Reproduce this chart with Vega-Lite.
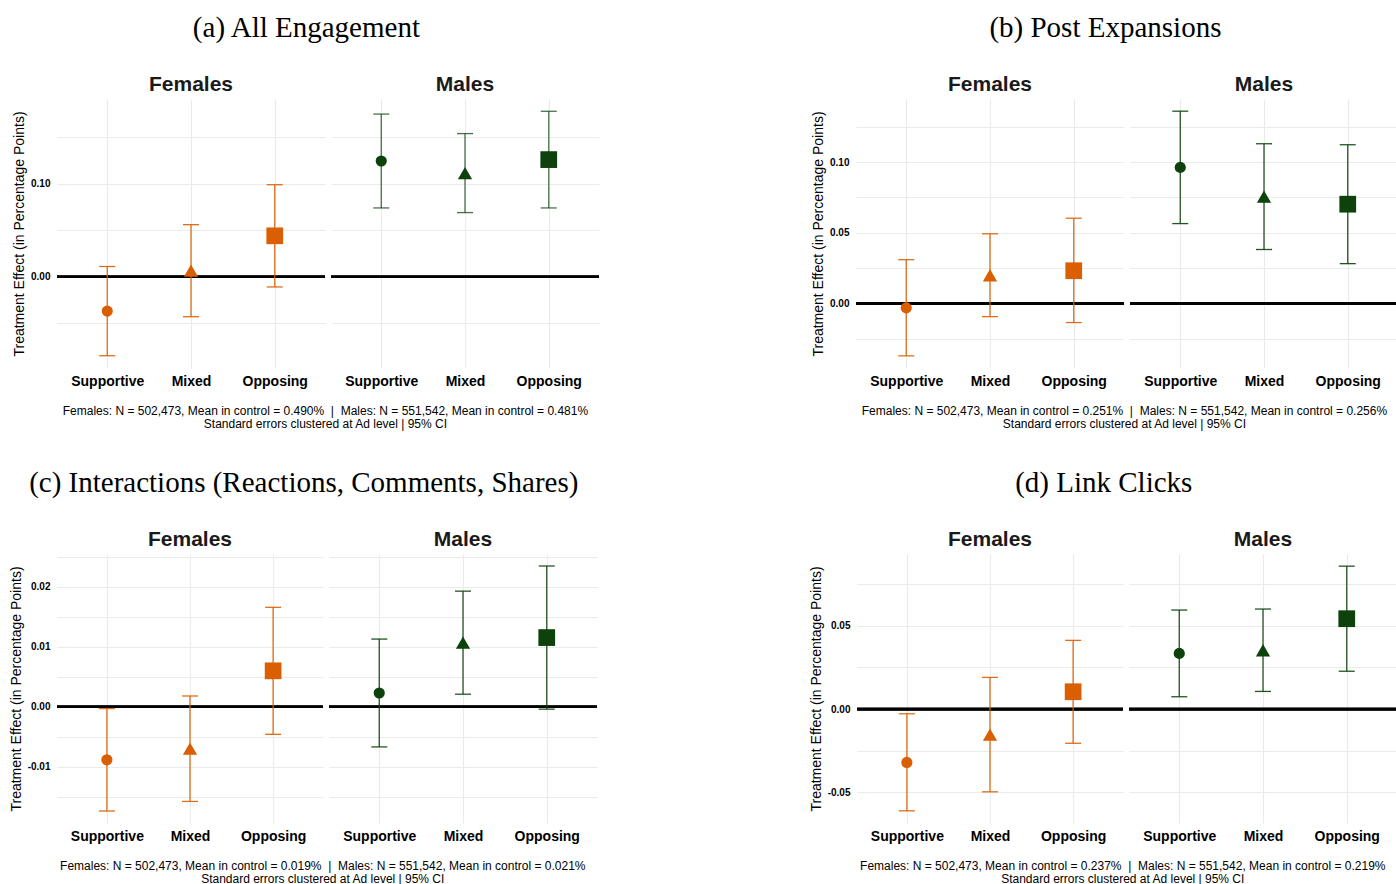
{
  "$schema": "https://vega.github.io/schema/vega-lite/v6.json",
  "background": "white",
  "padding": {"left": 9, "top": 14, "right": 0, "bottom": 0},
  "datasets": {
    "effects": [
      {"panel": "a", "sex": "Females", "frame": "Supportive", "est": -0.037, "lo": -0.085, "hi": 0.011},
      {"panel": "a", "sex": "Females", "frame": "Mixed", "est": 0.0065, "lo": -0.043, "hi": 0.056},
      {"panel": "a", "sex": "Females", "frame": "Opposing", "est": 0.044, "lo": -0.011, "hi": 0.099},
      {"panel": "a", "sex": "Males", "frame": "Supportive", "est": 0.1245, "lo": 0.074, "hi": 0.175},
      {"panel": "a", "sex": "Males", "frame": "Mixed", "est": 0.1115, "lo": 0.069, "hi": 0.154},
      {"panel": "a", "sex": "Males", "frame": "Opposing", "est": 0.126, "lo": 0.074, "hi": 0.178},
      {"panel": "b", "sex": "Females", "frame": "Supportive", "est": -0.003, "lo": -0.0369, "hi": 0.031},
      {"panel": "b", "sex": "Females", "frame": "Mixed", "est": 0.020, "lo": -0.0092, "hi": 0.0493},
      {"panel": "b", "sex": "Females", "frame": "Opposing", "est": 0.0232, "lo": -0.0134, "hi": 0.0603},
      {"panel": "b", "sex": "Males", "frame": "Supportive", "est": 0.0962, "lo": 0.0565, "hi": 0.1359},
      {"panel": "b", "sex": "Males", "frame": "Mixed", "est": 0.0756, "lo": 0.0382, "hi": 0.1129},
      {"panel": "b", "sex": "Males", "frame": "Opposing", "est": 0.0702, "lo": 0.0282, "hi": 0.1122},
      {"panel": "c", "sex": "Females", "frame": "Supportive", "est": -0.00885, "lo": -0.0174, "hi": -0.0003},
      {"panel": "c", "sex": "Females", "frame": "Mixed", "est": -0.007, "lo": -0.0158, "hi": 0.0018},
      {"panel": "c", "sex": "Females", "frame": "Opposing", "est": 0.006, "lo": -0.0046, "hi": 0.0166},
      {"panel": "c", "sex": "Males", "frame": "Supportive", "est": 0.0023, "lo": -0.0067, "hi": 0.0113},
      {"panel": "c", "sex": "Males", "frame": "Mixed", "est": 0.0107, "lo": 0.0021, "hi": 0.0193},
      {"panel": "c", "sex": "Males", "frame": "Opposing", "est": 0.01155, "lo": -0.0004, "hi": 0.0235},
      {"panel": "d", "sex": "Females", "frame": "Supportive", "est": -0.032, "lo": -0.061, "hi": -0.0028},
      {"panel": "d", "sex": "Females", "frame": "Mixed", "est": -0.0153, "lo": -0.0496, "hi": 0.019},
      {"panel": "d", "sex": "Females", "frame": "Opposing", "est": 0.0104, "lo": -0.0205, "hi": 0.0412},
      {"panel": "d", "sex": "Males", "frame": "Supportive", "est": 0.0334, "lo": 0.0074, "hi": 0.0594},
      {"panel": "d", "sex": "Males", "frame": "Mixed", "est": 0.0353, "lo": 0.0106, "hi": 0.06},
      {"panel": "d", "sex": "Males", "frame": "Opposing", "est": 0.0542, "lo": 0.0227, "hi": 0.0857}
    ]
  },
  "config": {
    "view": {"stroke": null},
    "font": "Liberation Sans",
    "axis": {"domain": false, "ticks": false, "gridColor": "#ebebeb", "gridWidth": 1.1, "labelColor": "#000000", "labelFont": "Liberation Sans", "titleFont": "Liberation Sans"},
    "axisX": {"labelFontSize": 14, "labelFontWeight": "bold", "labelPadding": 6, "labelAngle": 0},
    "axisY": {"labelFontSize": 10, "labelFontWeight": "bold", "labelPadding": 7, "titleFontSize": 14, "titleFontWeight": "normal", "titleColor": "#000000", "titlePadding": 4, "minExtent": 0, "tickCount": 20}
  },
  "spacing": 39,
  "vconcat": [
    {
      "spacing": 210,
      "hconcat": [
        {
          "title": {"text": "(a) All Engagement", "font": "Liberation Serif", "fontSize": 29, "fontWeight": "normal", "color": "#000000", "anchor": "middle", "frame": "bounds", "offset": 31},
          "vconcat": [
            {
              "title": {"text": ["Females: N = 502,473, Mean in control = 0.490% \u00a0|\u00a0 Males: N = 551,542, Mean in control = 0.481%", "Standard errors clustered at Ad level | 95% CI"], "orient": "bottom", "font": "Liberation Sans", "fontSize": 12, "fontWeight": "normal", "color": "#000000", "lineHeight": 13, "anchor": "middle", "frame": "bounds", "offset": 18, "dx": 19},
              "spacing": 6,
              "bounds": "flush",
              "hconcat": [
                {
                  "width": 268, "height": 269,
                  "title": {"text": "Females", "font": "Liberation Sans", "fontSize": 21, "fontWeight": "bold", "color": "#1a1a1a", "anchor": "middle", "frame": "group", "offset": 4},
                  "data": {"name": "effects"},
                  "transform": [{"filter": "datum.panel === 'a' && datum.sex === 'Females'"}],
                  "layer": [
                    {"mark": {"type": "rule", "color": "#000000", "strokeWidth": 2.6},
                     "encoding": {"y": {"datum": 0, "type": "quantitative", "scale": {"domain": [-0.0982, 0.1912], "nice": false, "zero": false},
                       "axis": {"title": "Treatment Effect (in Percentage Points)", "values": [-0.05, 0, 0.05, 0.1, 0.15], "tickCount": 20, "labelExpr": "datum.value === 0 ? '0.00' : datum.value === 0.1 ? '0.10' : ''", "grid": true}}}},
                    {"mark": {"type": "rule", "strokeWidth": 1.3, "opacity": 0.9},
                     "encoding": {"x": {"field": "frame", "type": "nominal", "scale": {"type": "point", "padding": 0.6, "domain": ["Supportive", "Mixed", "Opposing"]}},
                       "y": {"field": "lo", "type": "quantitative", "scale": {"domain": [-0.0982, 0.1912], "nice": false, "zero": false}}, "y2": {"field": "hi"},
                       "color": {"field": "sex", "type": "nominal", "scale": {"domain": ["Females", "Males"], "range": ["#d95f02", "#0d420d"]}, "legend": null}}},
                    {"mark": {"type": "tick", "size": 16, "thickness": 1.3, "opacity": 0.9},
                     "encoding": {"x": {"field": "frame", "type": "nominal", "scale": {"type": "point", "padding": 0.6, "domain": ["Supportive", "Mixed", "Opposing"]}},
                       "y": {"field": "lo", "type": "quantitative", "scale": {"domain": [-0.0982, 0.1912], "nice": false, "zero": false}},
                       "color": {"field": "sex", "type": "nominal", "scale": {"domain": ["Females", "Males"], "range": ["#d95f02", "#0d420d"]}, "legend": null}}},
                    {"mark": {"type": "tick", "size": 16, "thickness": 1.3, "opacity": 0.9},
                     "encoding": {"x": {"field": "frame", "type": "nominal", "scale": {"type": "point", "padding": 0.6, "domain": ["Supportive", "Mixed", "Opposing"]}},
                       "y": {"field": "hi", "type": "quantitative", "scale": {"domain": [-0.0982, 0.1912], "nice": false, "zero": false}},
                       "color": {"field": "sex", "type": "nominal", "scale": {"domain": ["Females", "Males"], "range": ["#d95f02", "#0d420d"]}, "legend": null}}},
                    {"mark": {"type": "point", "filled": true, "opacity": 1},
                     "encoding": {"x": {"field": "frame", "type": "nominal", "scale": {"type": "point", "padding": 0.6, "domain": ["Supportive", "Mixed", "Opposing"]}, "axis": {"title": null, "grid": true}},
                       "y": {"field": "est", "type": "quantitative", "scale": {"domain": [-0.0982, 0.1912], "nice": false, "zero": false}},
                       "color": {"field": "sex", "type": "nominal", "scale": {"domain": ["Females", "Males"], "range": ["#d95f02", "#0d420d"]}, "legend": null},
                       "shape": {"field": "frame", "type": "nominal", "scale": {"domain": ["Supportive", "Mixed", "Opposing"], "range": ["circle", "triangle-up", "square"]}, "legend": null},
                       "size": {"field": "frame", "type": "ordinal", "scale": {"domain": ["Supportive", "Mixed", "Opposing"], "range": [125, 280, 140]}, "legend": null}}}
                  ]
                },
                {
                  "width": 268, "height": 269,
                  "title": {"text": "Males", "font": "Liberation Sans", "fontSize": 21, "fontWeight": "bold", "color": "#1a1a1a", "anchor": "middle", "frame": "group", "offset": 4},
                  "data": {"name": "effects"},
                  "transform": [{"filter": "datum.panel === 'a' && datum.sex === 'Males'"}],
                  "layer": [
                    {"mark": {"type": "rule", "color": "#000000", "strokeWidth": 2.6},
                     "encoding": {"y": {"datum": 0, "type": "quantitative", "scale": {"domain": [-0.0982, 0.1912], "nice": false, "zero": false},
                       "axis": {"title": null, "values": [-0.05, 0, 0.05, 0.1, 0.15], "tickCount": 20, "labels": false, "grid": true}}}},
                    {"mark": {"type": "rule", "strokeWidth": 1.3, "opacity": 0.75},
                     "encoding": {"x": {"field": "frame", "type": "nominal", "scale": {"type": "point", "padding": 0.6, "domain": ["Supportive", "Mixed", "Opposing"]}},
                       "y": {"field": "lo", "type": "quantitative", "scale": {"domain": [-0.0982, 0.1912], "nice": false, "zero": false}}, "y2": {"field": "hi"},
                       "color": {"field": "sex", "type": "nominal", "scale": {"domain": ["Females", "Males"], "range": ["#d95f02", "#0d420d"]}, "legend": null}}},
                    {"mark": {"type": "tick", "size": 16, "thickness": 1.3, "opacity": 0.75},
                     "encoding": {"x": {"field": "frame", "type": "nominal", "scale": {"type": "point", "padding": 0.6, "domain": ["Supportive", "Mixed", "Opposing"]}},
                       "y": {"field": "lo", "type": "quantitative", "scale": {"domain": [-0.0982, 0.1912], "nice": false, "zero": false}},
                       "color": {"field": "sex", "type": "nominal", "scale": {"domain": ["Females", "Males"], "range": ["#d95f02", "#0d420d"]}, "legend": null}}},
                    {"mark": {"type": "tick", "size": 16, "thickness": 1.3, "opacity": 0.75},
                     "encoding": {"x": {"field": "frame", "type": "nominal", "scale": {"type": "point", "padding": 0.6, "domain": ["Supportive", "Mixed", "Opposing"]}},
                       "y": {"field": "hi", "type": "quantitative", "scale": {"domain": [-0.0982, 0.1912], "nice": false, "zero": false}},
                       "color": {"field": "sex", "type": "nominal", "scale": {"domain": ["Females", "Males"], "range": ["#d95f02", "#0d420d"]}, "legend": null}}},
                    {"mark": {"type": "point", "filled": true, "opacity": 1},
                     "encoding": {"x": {"field": "frame", "type": "nominal", "scale": {"type": "point", "padding": 0.6, "domain": ["Supportive", "Mixed", "Opposing"]}, "axis": {"title": null, "grid": true}},
                       "y": {"field": "est", "type": "quantitative", "scale": {"domain": [-0.0982, 0.1912], "nice": false, "zero": false}},
                       "color": {"field": "sex", "type": "nominal", "scale": {"domain": ["Females", "Males"], "range": ["#d95f02", "#0d420d"]}, "legend": null},
                       "shape": {"field": "frame", "type": "nominal", "scale": {"domain": ["Supportive", "Mixed", "Opposing"], "range": ["circle", "triangle-up", "square"]}, "legend": null},
                       "size": {"field": "frame", "type": "ordinal", "scale": {"domain": ["Supportive", "Mixed", "Opposing"], "range": [125, 280, 140]}, "legend": null}}}
                  ]
                }
              ]
            }
          ]
        },
        {
          "title": {"text": "(b) Post Expansions", "font": "Liberation Serif", "fontSize": 29, "fontWeight": "normal", "color": "#000000", "anchor": "middle", "frame": "bounds", "offset": 31},
          "vconcat": [
            {
              "title": {"text": ["Females: N = 502,473, Mean in control = 0.251% \u00a0|\u00a0 Males: N = 551,542, Mean in control = 0.256%", "Standard errors clustered at Ad level | 95% CI"], "orient": "bottom", "font": "Liberation Sans", "fontSize": 12, "fontWeight": "normal", "color": "#000000", "lineHeight": 13, "anchor": "middle", "frame": "bounds", "offset": 18, "dx": 19},
              "spacing": 6,
              "bounds": "flush",
              "hconcat": [
                {
                  "width": 268, "height": 269,
                  "title": {"text": "Females", "font": "Liberation Sans", "fontSize": 21, "fontWeight": "bold", "color": "#1a1a1a", "anchor": "middle", "frame": "group", "offset": 4},
                  "data": {"name": "effects"},
                  "transform": [{"filter": "datum.panel === 'b' && datum.sex === 'Females'"}],
                  "layer": [
                    {"mark": {"type": "rule", "color": "#000000", "strokeWidth": 2.6},
                     "encoding": {"y": {"datum": 0, "type": "quantitative", "scale": {"domain": [-0.0455, 0.1445], "nice": false, "zero": false},
                       "axis": {"title": "Treatment Effect (in Percentage Points)", "values": [-0.025, 0, 0.025, 0.05, 0.075, 0.1, 0.125], "tickCount": 20, "labelExpr": "datum.value === 0 ? '0.00' : datum.value === 0.05 ? '0.05' : datum.value === 0.1 ? '0.10' : ''", "grid": true}}}},
                    {"mark": {"type": "rule", "strokeWidth": 1.3, "opacity": 0.9},
                     "encoding": {"x": {"field": "frame", "type": "nominal", "scale": {"type": "point", "padding": 0.6, "domain": ["Supportive", "Mixed", "Opposing"]}},
                       "y": {"field": "lo", "type": "quantitative", "scale": {"domain": [-0.0455, 0.1445], "nice": false, "zero": false}}, "y2": {"field": "hi"},
                       "color": {"field": "sex", "type": "nominal", "scale": {"domain": ["Females", "Males"], "range": ["#d95f02", "#0d420d"]}, "legend": null}}},
                    {"mark": {"type": "tick", "size": 16, "thickness": 1.3, "opacity": 0.9},
                     "encoding": {"x": {"field": "frame", "type": "nominal", "scale": {"type": "point", "padding": 0.6, "domain": ["Supportive", "Mixed", "Opposing"]}},
                       "y": {"field": "lo", "type": "quantitative", "scale": {"domain": [-0.0455, 0.1445], "nice": false, "zero": false}},
                       "color": {"field": "sex", "type": "nominal", "scale": {"domain": ["Females", "Males"], "range": ["#d95f02", "#0d420d"]}, "legend": null}}},
                    {"mark": {"type": "tick", "size": 16, "thickness": 1.3, "opacity": 0.9},
                     "encoding": {"x": {"field": "frame", "type": "nominal", "scale": {"type": "point", "padding": 0.6, "domain": ["Supportive", "Mixed", "Opposing"]}},
                       "y": {"field": "hi", "type": "quantitative", "scale": {"domain": [-0.0455, 0.1445], "nice": false, "zero": false}},
                       "color": {"field": "sex", "type": "nominal", "scale": {"domain": ["Females", "Males"], "range": ["#d95f02", "#0d420d"]}, "legend": null}}},
                    {"mark": {"type": "point", "filled": true, "opacity": 1},
                     "encoding": {"x": {"field": "frame", "type": "nominal", "scale": {"type": "point", "padding": 0.6, "domain": ["Supportive", "Mixed", "Opposing"]}, "axis": {"title": null, "grid": true}},
                       "y": {"field": "est", "type": "quantitative", "scale": {"domain": [-0.0455, 0.1445], "nice": false, "zero": false}},
                       "color": {"field": "sex", "type": "nominal", "scale": {"domain": ["Females", "Males"], "range": ["#d95f02", "#0d420d"]}, "legend": null},
                       "shape": {"field": "frame", "type": "nominal", "scale": {"domain": ["Supportive", "Mixed", "Opposing"], "range": ["circle", "triangle-up", "square"]}, "legend": null},
                       "size": {"field": "frame", "type": "ordinal", "scale": {"domain": ["Supportive", "Mixed", "Opposing"], "range": [125, 280, 140]}, "legend": null}}}
                  ]
                },
                {
                  "width": 268, "height": 269,
                  "title": {"text": "Males", "font": "Liberation Sans", "fontSize": 21, "fontWeight": "bold", "color": "#1a1a1a", "anchor": "middle", "frame": "group", "offset": 4},
                  "data": {"name": "effects"},
                  "transform": [{"filter": "datum.panel === 'b' && datum.sex === 'Males'"}],
                  "layer": [
                    {"mark": {"type": "rule", "color": "#000000", "strokeWidth": 2.6},
                     "encoding": {"y": {"datum": 0, "type": "quantitative", "scale": {"domain": [-0.0455, 0.1445], "nice": false, "zero": false},
                       "axis": {"title": null, "values": [-0.025, 0, 0.025, 0.05, 0.075, 0.1, 0.125], "tickCount": 20, "labels": false, "grid": true}}}},
                    {"mark": {"type": "rule", "strokeWidth": 1.3, "opacity": 0.9},
                     "encoding": {"x": {"field": "frame", "type": "nominal", "scale": {"type": "point", "padding": 0.6, "domain": ["Supportive", "Mixed", "Opposing"]}},
                       "y": {"field": "lo", "type": "quantitative", "scale": {"domain": [-0.0455, 0.1445], "nice": false, "zero": false}}, "y2": {"field": "hi"},
                       "color": {"field": "sex", "type": "nominal", "scale": {"domain": ["Females", "Males"], "range": ["#d95f02", "#0d420d"]}, "legend": null}}},
                    {"mark": {"type": "tick", "size": 16, "thickness": 1.3, "opacity": 0.9},
                     "encoding": {"x": {"field": "frame", "type": "nominal", "scale": {"type": "point", "padding": 0.6, "domain": ["Supportive", "Mixed", "Opposing"]}},
                       "y": {"field": "lo", "type": "quantitative", "scale": {"domain": [-0.0455, 0.1445], "nice": false, "zero": false}},
                       "color": {"field": "sex", "type": "nominal", "scale": {"domain": ["Females", "Males"], "range": ["#d95f02", "#0d420d"]}, "legend": null}}},
                    {"mark": {"type": "tick", "size": 16, "thickness": 1.3, "opacity": 0.9},
                     "encoding": {"x": {"field": "frame", "type": "nominal", "scale": {"type": "point", "padding": 0.6, "domain": ["Supportive", "Mixed", "Opposing"]}},
                       "y": {"field": "hi", "type": "quantitative", "scale": {"domain": [-0.0455, 0.1445], "nice": false, "zero": false}},
                       "color": {"field": "sex", "type": "nominal", "scale": {"domain": ["Females", "Males"], "range": ["#d95f02", "#0d420d"]}, "legend": null}}},
                    {"mark": {"type": "point", "filled": true, "opacity": 1},
                     "encoding": {"x": {"field": "frame", "type": "nominal", "scale": {"type": "point", "padding": 0.6, "domain": ["Supportive", "Mixed", "Opposing"]}, "axis": {"title": null, "grid": true}},
                       "y": {"field": "est", "type": "quantitative", "scale": {"domain": [-0.0455, 0.1445], "nice": false, "zero": false}},
                       "color": {"field": "sex", "type": "nominal", "scale": {"domain": ["Females", "Males"], "range": ["#d95f02", "#0d420d"]}, "legend": null},
                       "shape": {"field": "frame", "type": "nominal", "scale": {"domain": ["Supportive", "Mixed", "Opposing"], "range": ["circle", "triangle-up", "square"]}, "legend": null},
                       "size": {"field": "frame", "type": "ordinal", "scale": {"domain": ["Supportive", "Mixed", "Opposing"], "range": [125, 280, 140]}, "legend": null}}}
                  ]
                }
              ]
            }
          ]
        }
      ]
    },
    {
      "spacing": 210,
      "hconcat": [
        {
          "title": {"text": "(c) Interactions (Reactions, Comments, Shares)", "font": "Liberation Serif", "fontSize": 29, "fontWeight": "normal", "color": "#000000", "anchor": "middle", "frame": "bounds", "offset": 31},
          "vconcat": [
            {
              "title": {"text": ["Females: N = 502,473, Mean in control = 0.019% \u00a0|\u00a0 Males: N = 551,542, Mean in control = 0.021%", "Standard errors clustered at Ad level | 95% CI"], "orient": "bottom", "font": "Liberation Sans", "fontSize": 12, "fontWeight": "normal", "color": "#000000", "lineHeight": 13, "anchor": "middle", "frame": "bounds", "offset": 18, "dx": 19},
              "spacing": 6,
              "bounds": "flush",
              "hconcat": [
                {
                  "width": 266, "height": 269,
                  "title": {"text": "Females", "font": "Liberation Sans", "fontSize": 21, "fontWeight": "bold", "color": "#1a1a1a", "anchor": "middle", "frame": "group", "offset": 4},
                  "data": {"name": "effects"},
                  "transform": [{"filter": "datum.panel === 'c' && datum.sex === 'Females'"}],
                  "layer": [
                    {"mark": {"type": "rule", "color": "#000000", "strokeWidth": 2.6},
                     "encoding": {"y": {"datum": 0, "type": "quantitative", "scale": {"domain": [-0.0194, 0.0255], "nice": false, "zero": false},
                       "axis": {"title": "Treatment Effect (in Percentage Points)", "values": [-0.015, -0.01, -0.005, 0, 0.005, 0.01, 0.015, 0.02, 0.025], "tickCount": 20, "labelExpr": "datum.value === 0 ? '0.00' : datum.value === 0.01 ? '0.01' : datum.value === 0.02 ? '0.02' : datum.value === -0.01 ? '-0.01' : ''", "grid": true}}}},
                    {"mark": {"type": "rule", "strokeWidth": 1.3, "opacity": 0.9},
                     "encoding": {"x": {"field": "frame", "type": "nominal", "scale": {"type": "point", "padding": 0.6, "domain": ["Supportive", "Mixed", "Opposing"]}},
                       "y": {"field": "lo", "type": "quantitative", "scale": {"domain": [-0.0194, 0.0255], "nice": false, "zero": false}}, "y2": {"field": "hi"},
                       "color": {"field": "sex", "type": "nominal", "scale": {"domain": ["Females", "Males"], "range": ["#d95f02", "#0d420d"]}, "legend": null}}},
                    {"mark": {"type": "tick", "size": 16, "thickness": 1.3, "opacity": 0.9},
                     "encoding": {"x": {"field": "frame", "type": "nominal", "scale": {"type": "point", "padding": 0.6, "domain": ["Supportive", "Mixed", "Opposing"]}},
                       "y": {"field": "lo", "type": "quantitative", "scale": {"domain": [-0.0194, 0.0255], "nice": false, "zero": false}},
                       "color": {"field": "sex", "type": "nominal", "scale": {"domain": ["Females", "Males"], "range": ["#d95f02", "#0d420d"]}, "legend": null}}},
                    {"mark": {"type": "tick", "size": 16, "thickness": 1.3, "opacity": 0.9},
                     "encoding": {"x": {"field": "frame", "type": "nominal", "scale": {"type": "point", "padding": 0.6, "domain": ["Supportive", "Mixed", "Opposing"]}},
                       "y": {"field": "hi", "type": "quantitative", "scale": {"domain": [-0.0194, 0.0255], "nice": false, "zero": false}},
                       "color": {"field": "sex", "type": "nominal", "scale": {"domain": ["Females", "Males"], "range": ["#d95f02", "#0d420d"]}, "legend": null}}},
                    {"mark": {"type": "point", "filled": true, "opacity": 1},
                     "encoding": {"x": {"field": "frame", "type": "nominal", "scale": {"type": "point", "padding": 0.6, "domain": ["Supportive", "Mixed", "Opposing"]}, "axis": {"title": null, "grid": true}},
                       "y": {"field": "est", "type": "quantitative", "scale": {"domain": [-0.0194, 0.0255], "nice": false, "zero": false}},
                       "color": {"field": "sex", "type": "nominal", "scale": {"domain": ["Females", "Males"], "range": ["#d95f02", "#0d420d"]}, "legend": null},
                       "shape": {"field": "frame", "type": "nominal", "scale": {"domain": ["Supportive", "Mixed", "Opposing"], "range": ["circle", "triangle-up", "square"]}, "legend": null},
                       "size": {"field": "frame", "type": "ordinal", "scale": {"domain": ["Supportive", "Mixed", "Opposing"], "range": [125, 280, 140]}, "legend": null}}}
                  ]
                },
                {
                  "width": 268, "height": 269,
                  "title": {"text": "Males", "font": "Liberation Sans", "fontSize": 21, "fontWeight": "bold", "color": "#1a1a1a", "anchor": "middle", "frame": "group", "offset": 4},
                  "data": {"name": "effects"},
                  "transform": [{"filter": "datum.panel === 'c' && datum.sex === 'Males'"}],
                  "layer": [
                    {"mark": {"type": "rule", "color": "#000000", "strokeWidth": 2.6},
                     "encoding": {"y": {"datum": 0, "type": "quantitative", "scale": {"domain": [-0.0194, 0.0255], "nice": false, "zero": false},
                       "axis": {"title": null, "values": [-0.015, -0.01, -0.005, 0, 0.005, 0.01, 0.015, 0.02, 0.025], "tickCount": 20, "labels": false, "grid": true}}}},
                    {"mark": {"type": "rule", "strokeWidth": 1.3, "opacity": 0.9},
                     "encoding": {"x": {"field": "frame", "type": "nominal", "scale": {"type": "point", "padding": 0.6, "domain": ["Supportive", "Mixed", "Opposing"]}},
                       "y": {"field": "lo", "type": "quantitative", "scale": {"domain": [-0.0194, 0.0255], "nice": false, "zero": false}}, "y2": {"field": "hi"},
                       "color": {"field": "sex", "type": "nominal", "scale": {"domain": ["Females", "Males"], "range": ["#d95f02", "#0d420d"]}, "legend": null}}},
                    {"mark": {"type": "tick", "size": 16, "thickness": 1.3, "opacity": 0.9},
                     "encoding": {"x": {"field": "frame", "type": "nominal", "scale": {"type": "point", "padding": 0.6, "domain": ["Supportive", "Mixed", "Opposing"]}},
                       "y": {"field": "lo", "type": "quantitative", "scale": {"domain": [-0.0194, 0.0255], "nice": false, "zero": false}},
                       "color": {"field": "sex", "type": "nominal", "scale": {"domain": ["Females", "Males"], "range": ["#d95f02", "#0d420d"]}, "legend": null}}},
                    {"mark": {"type": "tick", "size": 16, "thickness": 1.3, "opacity": 0.9},
                     "encoding": {"x": {"field": "frame", "type": "nominal", "scale": {"type": "point", "padding": 0.6, "domain": ["Supportive", "Mixed", "Opposing"]}},
                       "y": {"field": "hi", "type": "quantitative", "scale": {"domain": [-0.0194, 0.0255], "nice": false, "zero": false}},
                       "color": {"field": "sex", "type": "nominal", "scale": {"domain": ["Females", "Males"], "range": ["#d95f02", "#0d420d"]}, "legend": null}}},
                    {"mark": {"type": "point", "filled": true, "opacity": 1},
                     "encoding": {"x": {"field": "frame", "type": "nominal", "scale": {"type": "point", "padding": 0.6, "domain": ["Supportive", "Mixed", "Opposing"]}, "axis": {"title": null, "grid": true}},
                       "y": {"field": "est", "type": "quantitative", "scale": {"domain": [-0.0194, 0.0255], "nice": false, "zero": false}},
                       "color": {"field": "sex", "type": "nominal", "scale": {"domain": ["Females", "Males"], "range": ["#d95f02", "#0d420d"]}, "legend": null},
                       "shape": {"field": "frame", "type": "nominal", "scale": {"domain": ["Supportive", "Mixed", "Opposing"], "range": ["circle", "triangle-up", "square"]}, "legend": null},
                       "size": {"field": "frame", "type": "ordinal", "scale": {"domain": ["Supportive", "Mixed", "Opposing"], "range": [125, 280, 140]}, "legend": null}}}
                  ]
                }
              ]
            }
          ]
        },
        {
          "title": {"text": "(d) Link Clicks", "font": "Liberation Serif", "fontSize": 29, "fontWeight": "normal", "color": "#000000", "anchor": "middle", "frame": "bounds", "offset": 31},
          "vconcat": [
            {
              "title": {"text": ["Females: N = 502,473, Mean in control = 0.237% \u00a0|\u00a0 Males: N = 551,542, Mean in control = 0.219%", "Standard errors clustered at Ad level | 95% CI"], "orient": "bottom", "font": "Liberation Sans", "fontSize": 12, "fontWeight": "normal", "color": "#000000", "lineHeight": 13, "anchor": "middle", "frame": "bounds", "offset": 18, "dx": 19},
              "spacing": 6,
              "bounds": "flush",
              "hconcat": [
                {
                  "width": 266, "height": 269,
                  "title": {"text": "Females", "font": "Liberation Sans", "fontSize": 21, "fontWeight": "bold", "color": "#1a1a1a", "anchor": "middle", "frame": "group", "offset": 4},
                  "data": {"name": "effects"},
                  "transform": [{"filter": "datum.panel === 'd' && datum.sex === 'Females'"}],
                  "layer": [
                    {"mark": {"type": "rule", "color": "#000000", "strokeWidth": 2.6},
                     "encoding": {"y": {"datum": 0, "type": "quantitative", "scale": {"domain": [-0.0683, 0.093], "nice": false, "zero": false},
                       "axis": {"title": "Treatment Effect (in Percentage Points)", "values": [-0.05, -0.025, 0, 0.025, 0.05, 0.075], "tickCount": 20, "labelExpr": "datum.value === 0 ? '0.00' : datum.value === 0.05 ? '0.05' : datum.value === -0.05 ? '-0.05' : ''", "grid": true}}}},
                    {"mark": {"type": "rule", "strokeWidth": 1.3, "opacity": 0.9},
                     "encoding": {"x": {"field": "frame", "type": "nominal", "scale": {"type": "point", "padding": 0.6, "domain": ["Supportive", "Mixed", "Opposing"]}},
                       "y": {"field": "lo", "type": "quantitative", "scale": {"domain": [-0.0683, 0.093], "nice": false, "zero": false}}, "y2": {"field": "hi"},
                       "color": {"field": "sex", "type": "nominal", "scale": {"domain": ["Females", "Males"], "range": ["#d95f02", "#0d420d"]}, "legend": null}}},
                    {"mark": {"type": "tick", "size": 16, "thickness": 1.3, "opacity": 0.9},
                     "encoding": {"x": {"field": "frame", "type": "nominal", "scale": {"type": "point", "padding": 0.6, "domain": ["Supportive", "Mixed", "Opposing"]}},
                       "y": {"field": "lo", "type": "quantitative", "scale": {"domain": [-0.0683, 0.093], "nice": false, "zero": false}},
                       "color": {"field": "sex", "type": "nominal", "scale": {"domain": ["Females", "Males"], "range": ["#d95f02", "#0d420d"]}, "legend": null}}},
                    {"mark": {"type": "tick", "size": 16, "thickness": 1.3, "opacity": 0.9},
                     "encoding": {"x": {"field": "frame", "type": "nominal", "scale": {"type": "point", "padding": 0.6, "domain": ["Supportive", "Mixed", "Opposing"]}},
                       "y": {"field": "hi", "type": "quantitative", "scale": {"domain": [-0.0683, 0.093], "nice": false, "zero": false}},
                       "color": {"field": "sex", "type": "nominal", "scale": {"domain": ["Females", "Males"], "range": ["#d95f02", "#0d420d"]}, "legend": null}}},
                    {"mark": {"type": "point", "filled": true, "opacity": 1},
                     "encoding": {"x": {"field": "frame", "type": "nominal", "scale": {"type": "point", "padding": 0.6, "domain": ["Supportive", "Mixed", "Opposing"]}, "axis": {"title": null, "grid": true}},
                       "y": {"field": "est", "type": "quantitative", "scale": {"domain": [-0.0683, 0.093], "nice": false, "zero": false}},
                       "color": {"field": "sex", "type": "nominal", "scale": {"domain": ["Females", "Males"], "range": ["#d95f02", "#0d420d"]}, "legend": null},
                       "shape": {"field": "frame", "type": "nominal", "scale": {"domain": ["Supportive", "Mixed", "Opposing"], "range": ["circle", "triangle-up", "square"]}, "legend": null},
                       "size": {"field": "frame", "type": "ordinal", "scale": {"domain": ["Supportive", "Mixed", "Opposing"], "range": [125, 280, 140]}, "legend": null}}}
                  ]
                },
                {
                  "width": 268, "height": 269,
                  "title": {"text": "Males", "font": "Liberation Sans", "fontSize": 21, "fontWeight": "bold", "color": "#1a1a1a", "anchor": "middle", "frame": "group", "offset": 4},
                  "data": {"name": "effects"},
                  "transform": [{"filter": "datum.panel === 'd' && datum.sex === 'Males'"}],
                  "layer": [
                    {"mark": {"type": "rule", "color": "#000000", "strokeWidth": 2.6},
                     "encoding": {"y": {"datum": 0, "type": "quantitative", "scale": {"domain": [-0.0683, 0.093], "nice": false, "zero": false},
                       "axis": {"title": null, "values": [-0.05, -0.025, 0, 0.025, 0.05, 0.075], "tickCount": 20, "labels": false, "grid": true}}}},
                    {"mark": {"type": "rule", "strokeWidth": 1.3, "opacity": 0.9},
                     "encoding": {"x": {"field": "frame", "type": "nominal", "scale": {"type": "point", "padding": 0.6, "domain": ["Supportive", "Mixed", "Opposing"]}},
                       "y": {"field": "lo", "type": "quantitative", "scale": {"domain": [-0.0683, 0.093], "nice": false, "zero": false}}, "y2": {"field": "hi"},
                       "color": {"field": "sex", "type": "nominal", "scale": {"domain": ["Females", "Males"], "range": ["#d95f02", "#0d420d"]}, "legend": null}}},
                    {"mark": {"type": "tick", "size": 16, "thickness": 1.3, "opacity": 0.9},
                     "encoding": {"x": {"field": "frame", "type": "nominal", "scale": {"type": "point", "padding": 0.6, "domain": ["Supportive", "Mixed", "Opposing"]}},
                       "y": {"field": "lo", "type": "quantitative", "scale": {"domain": [-0.0683, 0.093], "nice": false, "zero": false}},
                       "color": {"field": "sex", "type": "nominal", "scale": {"domain": ["Females", "Males"], "range": ["#d95f02", "#0d420d"]}, "legend": null}}},
                    {"mark": {"type": "tick", "size": 16, "thickness": 1.3, "opacity": 0.9},
                     "encoding": {"x": {"field": "frame", "type": "nominal", "scale": {"type": "point", "padding": 0.6, "domain": ["Supportive", "Mixed", "Opposing"]}},
                       "y": {"field": "hi", "type": "quantitative", "scale": {"domain": [-0.0683, 0.093], "nice": false, "zero": false}},
                       "color": {"field": "sex", "type": "nominal", "scale": {"domain": ["Females", "Males"], "range": ["#d95f02", "#0d420d"]}, "legend": null}}},
                    {"mark": {"type": "point", "filled": true, "opacity": 1},
                     "encoding": {"x": {"field": "frame", "type": "nominal", "scale": {"type": "point", "padding": 0.6, "domain": ["Supportive", "Mixed", "Opposing"]}, "axis": {"title": null, "grid": true}},
                       "y": {"field": "est", "type": "quantitative", "scale": {"domain": [-0.0683, 0.093], "nice": false, "zero": false}},
                       "color": {"field": "sex", "type": "nominal", "scale": {"domain": ["Females", "Males"], "range": ["#d95f02", "#0d420d"]}, "legend": null},
                       "shape": {"field": "frame", "type": "nominal", "scale": {"domain": ["Supportive", "Mixed", "Opposing"], "range": ["circle", "triangle-up", "square"]}, "legend": null},
                       "size": {"field": "frame", "type": "ordinal", "scale": {"domain": ["Supportive", "Mixed", "Opposing"], "range": [125, 280, 140]}, "legend": null}}}
                  ]
                }
              ]
            }
          ]
        }
      ]
    }
  ]
}
